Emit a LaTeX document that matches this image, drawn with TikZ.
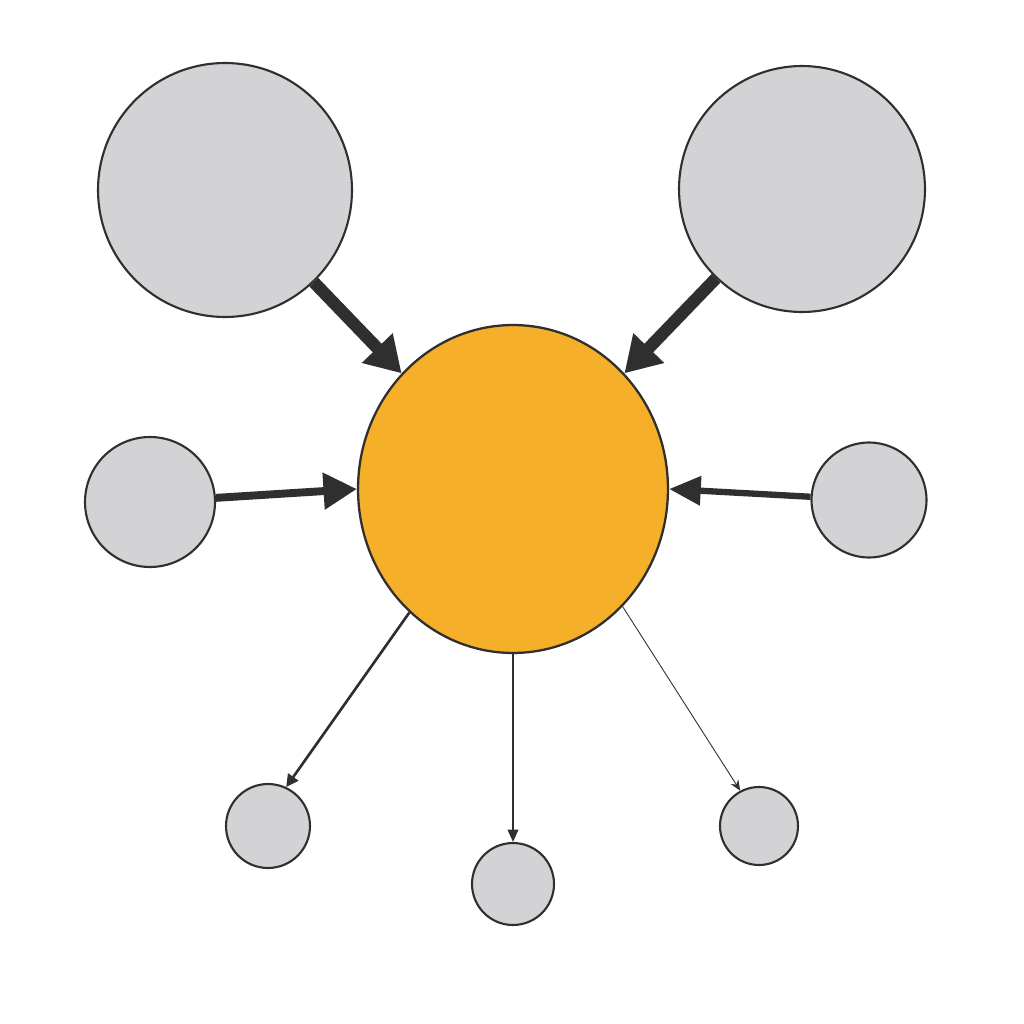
\documentclass[tikz,border=0pt]{standalone}
\usetikzlibrary{arrows.meta,shapes.geometric}
\definecolor{grayfill}{HTML}{D3D3D6}
\definecolor{orangefill}{HTML}{F5AF28}
\definecolor{ink}{HTML}{2F2F2F}
\tikzset{
  sat/.style={circle, draw=ink, fill=grayfill, line width=1.2pt, inner sep=0pt},
  hub/.style={ellipse, draw=ink, fill=orangefill, line width=1.3pt, inner sep=0pt, minimum width=6.2cm, minimum height=6.56cm},
  conn/.style={draw=ink, color=ink}
}
\begin{document}
\begin{tikzpicture}[x=0.02cm, y=-0.02cm]
\useasboundingbox (0,0) rectangle (1024,1024);
\fill[white] (0,0) rectangle (1024,1024);
\node[hub] (hub) at (513,489) {};
\node[sat, minimum size=5.08cm] (tl) at (225,190) {};
\node[sat, minimum size=4.92cm] (tr) at (802,189) {};
\node[sat, minimum size=2.6cm] (ml) at (150,502) {};
\node[sat, minimum size=2.3cm] (mr) at (869,500) {};
\node[sat, minimum size=1.68cm] (bl) at (268,826) {};
\node[sat, minimum size=1.64cm] (bm) at (513,884) {};
\node[sat, minimum size=1.56cm] (br) at (759,826) {};
\draw[conn, line width=7pt, -{Triangle[length=20pt,width=23pt]}] (tl) -- (hub);
\draw[conn, line width=7pt, -{Triangle[length=20pt,width=23pt]}] (tr) -- (hub);
\draw[conn, line width=4.5pt, -{Triangle[length=19pt,width=20pt]}] (ml) -- (hub.west);
\draw[conn, line width=3.6pt, -{Triangle[length=18pt,width=16pt]}] (mr) -- (hub.east);
\draw[conn, line width=1.5pt, -{Triangle[length=7pt,width=7pt]}] (hub.-130) -- (bl.65);
\draw[conn, line width=1.1pt, -{Triangle[length=7pt,width=6pt]}] (hub.south) -- (bm);
\draw[conn, line width=0.5pt, -{Stealth[length=6pt,width=5pt]}] (hub.-47) -- (br.118);
\end{tikzpicture}
\end{document}
